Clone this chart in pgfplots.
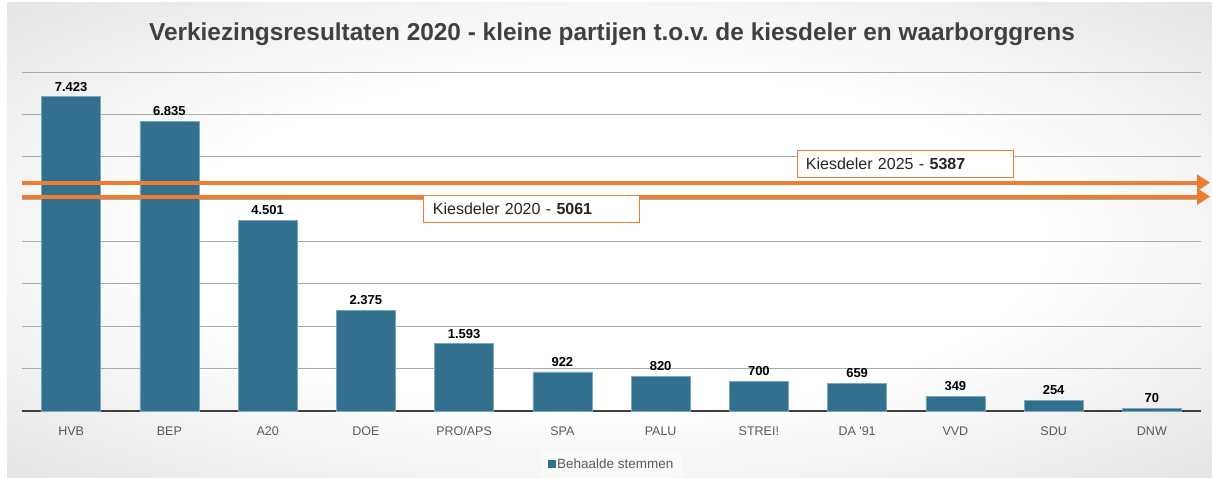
\documentclass[border=0pt]{standalone}
\usepackage{pgfplots}
\pgfplotsset{compat=1.18}
\usepackage{pgfplotstable}
\usepackage{fontspec}
\setmainfont{Liberation Sans}
\usetikzlibrary{arrows.meta}
\definecolor{barc}{RGB}{50,112,142}
\definecolor{bare}{RGB}{120,168,192}
\definecolor{orng}{RGB}{237,125,49}
\definecolor{titlec}{RGB}{64,64,64}
\definecolor{tickc}{RGB}{89,89,89}
\definecolor{gridc}{RGB}{170,170,170}
\definecolor{axc}{RGB}{64,64,64}
\pgfdeclareradialshading{bgshade}{\pgfpoint{0bp}{0bp}}{color(0bp)=(white); color(18bp)=(white); color(72bp)=(black!32)}
\frenchspacing

\pgfplotstableread{
x y label
0 7423 7.423
1 6835 6.835
2 4501 4.501
3 2375 2.375
4 1593 1.593
5 922 922
6 820 820
7 700 700
8 659 659
9 349 349
10 254 254
11 70 70
}\votes

\begin{document}
\begin{tikzpicture}
\fill[white] (-22pt,-66pt) rectangle (1190pt,411pt);
\shade[shading=bgshade] (-15pt,-66pt) rectangle (1190pt,408pt);
\useasboundingbox (-22pt,-66pt) rectangle (1190pt,411pt);
\node[font=\bfseries\fontsize{24.4}{24.4}\selectfont, text=titlec] at (590pt,377pt) {Verkiezingsresultaten 2020 - kleine partijen t.o.v. de kiesdeler en waarborggrens};
\begin{axis}[
  at={(0pt,0pt)}, anchor=south west,
  scale only axis, width=1179pt, height=339pt,
  xmin=-0.5, xmax=11.5, ymin=0, ymax=8000,
  clip=false,
  axis x line=bottom, axis y line=left,
  y axis line style={draw=none},
  x axis line style={-, draw=axc, line width=2pt},
  ytick={0,1000,...,8000}, yticklabels={},
  ymajorgrids, major grid style={draw=gridc, line width=0.9pt},
  major tick length=0pt,
  xtick=data,
  xticklabels={HVB,BEP,A20,DOE,PRO/APS,SPA,PALU,STREI!,DA~\textquotesingle91,VVD,SDU,DNW},
  xticklabel style={font=\fontsize{12.5}{12.5}\selectfont, text=tickc, anchor=base, inner sep=0pt},
  xticklabel shift=24pt,
  ybar, bar width=0.6,
  nodes near coords, point meta=explicit symbolic,
  every node near coord/.append style={font=\bfseries\fontsize{13}{13}\selectfont, text=black, anchor=south, inner sep=0pt, yshift=5pt},
  legend style={at={(0.5,-0.156)}, anchor=center, draw=none, fill=white, fill opacity=0.45, text opacity=1, font=\fontsize{13.5}{13.5}\selectfont, text=tickc, inner xsep=7pt, inner ysep=5pt},
  legend image code/.code={\fill[barc, fill opacity=1] (0pt,-3.5pt) rectangle (7pt,3.5pt);},
]
\addplot[fill=barc, draw=bare, line width=0.6pt] table[x=x, y=y, meta=label] {\votes};
\addlegendentry{Behaalde stemmen}
\addplot[orng, line width=4pt, -{Triangle[length=13pt,width=16pt]}, forget plot, nodes near coords={}, sharp plot] coordinates {(-0.5,5387) (11.592,5387)};
\addplot[orng, line width=4pt, -{Triangle[length=13pt,width=16pt]}, forget plot, nodes near coords={}, sharp plot] coordinates {(-0.5,5061) (11.592,5061)};
\node[draw=orng, fill=white, line width=0.9pt, text width=198pt, minimum height=27pt, inner xsep=9pt, inner ysep=0pt, font=\fontsize{16}{16}\selectfont, text=black!85, align=left] at (axis cs:8.487,5841) {Kiesdeler 2025 - \textbf{5387}};
\node[draw=orng, fill=white, line width=0.9pt, text width=198pt, minimum height=27pt, inner xsep=9pt, inner ysep=0pt, font=\fontsize{16}{16}\selectfont, text=black!85, align=left] at (axis cs:4.69,4779) {Kiesdeler 2020 - \textbf{5061}};
\end{axis}
\end{tikzpicture}
\end{document}
